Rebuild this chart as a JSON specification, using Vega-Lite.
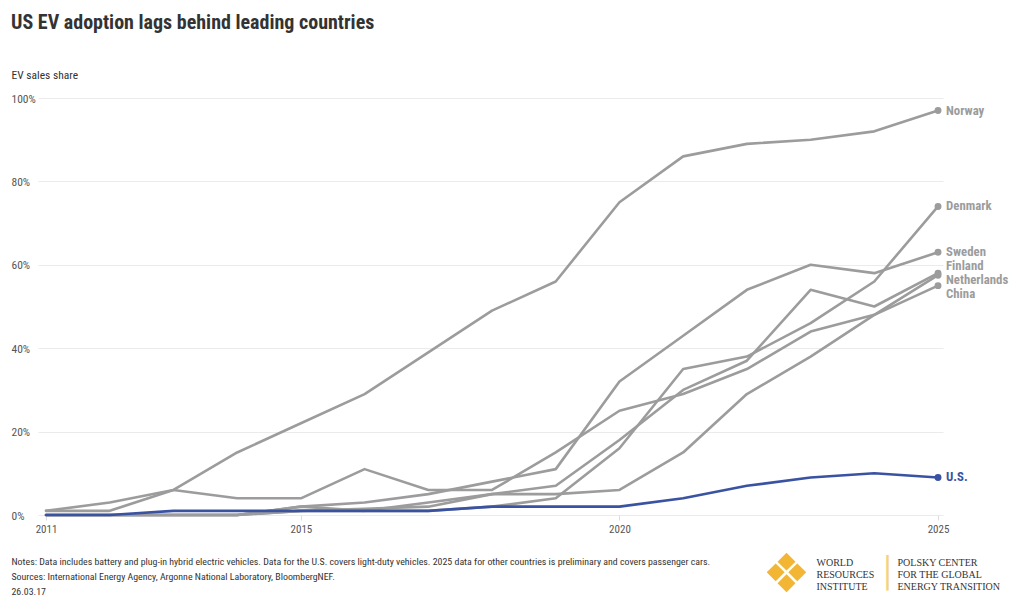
{
  "$schema": "https://vega.github.io/schema/vega-lite/v6.json",
  "width": 905,
  "height": 417,
  "autosize": {"type": "none"},
  "padding": {"left": 38, "top": 98, "right": 77, "bottom": 92},
  "background": "white",
  "config": {
    "font": "Roboto Condensed, Roboto, sans-serif",
    "view": {"stroke": null},
    "axis": {
      "labelFont": "Roboto Condensed, Roboto, sans-serif",
      "titleFont": "Roboto Condensed, Roboto, sans-serif",
      "labelColor": "#555555",
      "titleColor": "#333333",
      "labelFontSize": 11.5,
      "titleFontWeight": "normal"
    }
  },
  "title": {
    "text": "US EV adoption lags behind leading countries",
    "anchor": "start",
    "offset": 36,
    "fontSize": 20,
    "fontWeight": "bold",
    "color": "#333333",
    "font": "Roboto Condensed, Roboto, sans-serif"
  },
  "data": {
    "values": [
      {"country": "Norway", "year": 2011, "share": 1},
      {"country": "Norway", "year": 2012, "share": 3},
      {"country": "Norway", "year": 2013, "share": 6},
      {"country": "Norway", "year": 2014, "share": 15},
      {"country": "Norway", "year": 2015, "share": 22},
      {"country": "Norway", "year": 2016, "share": 29},
      {"country": "Norway", "year": 2017, "share": 39},
      {"country": "Norway", "year": 2018, "share": 49},
      {"country": "Norway", "year": 2019, "share": 56},
      {"country": "Norway", "year": 2020, "share": 75},
      {"country": "Norway", "year": 2021, "share": 86},
      {"country": "Norway", "year": 2022, "share": 89},
      {"country": "Norway", "year": 2023, "share": 90},
      {"country": "Norway", "year": 2024, "share": 92},
      {"country": "Norway", "year": 2025, "share": 97},
      {"country": "Denmark", "year": 2011, "share": 0},
      {"country": "Denmark", "year": 2012, "share": 0},
      {"country": "Denmark", "year": 2013, "share": 0},
      {"country": "Denmark", "year": 2014, "share": 0},
      {"country": "Denmark", "year": 2015, "share": 2},
      {"country": "Denmark", "year": 2016, "share": 1},
      {"country": "Denmark", "year": 2017, "share": 1},
      {"country": "Denmark", "year": 2018, "share": 2},
      {"country": "Denmark", "year": 2019, "share": 4},
      {"country": "Denmark", "year": 2020, "share": 16},
      {"country": "Denmark", "year": 2021, "share": 35},
      {"country": "Denmark", "year": 2022, "share": 38},
      {"country": "Denmark", "year": 2023, "share": 46},
      {"country": "Denmark", "year": 2024, "share": 56},
      {"country": "Denmark", "year": 2025, "share": 74},
      {"country": "Sweden", "year": 2011, "share": 0},
      {"country": "Sweden", "year": 2012, "share": 0},
      {"country": "Sweden", "year": 2013, "share": 0},
      {"country": "Sweden", "year": 2014, "share": 0},
      {"country": "Sweden", "year": 2015, "share": 2},
      {"country": "Sweden", "year": 2016, "share": 3},
      {"country": "Sweden", "year": 2017, "share": 5},
      {"country": "Sweden", "year": 2018, "share": 8},
      {"country": "Sweden", "year": 2019, "share": 11},
      {"country": "Sweden", "year": 2020, "share": 32},
      {"country": "Sweden", "year": 2021, "share": 43},
      {"country": "Sweden", "year": 2022, "share": 54},
      {"country": "Sweden", "year": 2023, "share": 60},
      {"country": "Sweden", "year": 2024, "share": 58},
      {"country": "Sweden", "year": 2025, "share": 63},
      {"country": "Finland", "year": 2011, "share": 0},
      {"country": "Finland", "year": 2012, "share": 0},
      {"country": "Finland", "year": 2013, "share": 0},
      {"country": "Finland", "year": 2014, "share": 0},
      {"country": "Finland", "year": 2015, "share": 1},
      {"country": "Finland", "year": 2016, "share": 1},
      {"country": "Finland", "year": 2017, "share": 3},
      {"country": "Finland", "year": 2018, "share": 5},
      {"country": "Finland", "year": 2019, "share": 7},
      {"country": "Finland", "year": 2020, "share": 18},
      {"country": "Finland", "year": 2021, "share": 30},
      {"country": "Finland", "year": 2022, "share": 37},
      {"country": "Finland", "year": 2023, "share": 54},
      {"country": "Finland", "year": 2024, "share": 50},
      {"country": "Finland", "year": 2025, "share": 58},
      {"country": "Netherlands", "year": 2011, "share": 1},
      {"country": "Netherlands", "year": 2012, "share": 1},
      {"country": "Netherlands", "year": 2013, "share": 6},
      {"country": "Netherlands", "year": 2014, "share": 4},
      {"country": "Netherlands", "year": 2015, "share": 4},
      {"country": "Netherlands", "year": 2016, "share": 11},
      {"country": "Netherlands", "year": 2017, "share": 6},
      {"country": "Netherlands", "year": 2018, "share": 6},
      {"country": "Netherlands", "year": 2019, "share": 15},
      {"country": "Netherlands", "year": 2020, "share": 25},
      {"country": "Netherlands", "year": 2021, "share": 29},
      {"country": "Netherlands", "year": 2022, "share": 35},
      {"country": "Netherlands", "year": 2023, "share": 44},
      {"country": "Netherlands", "year": 2024, "share": 48},
      {"country": "Netherlands", "year": 2025, "share": 57.5},
      {"country": "China", "year": 2011, "share": 0},
      {"country": "China", "year": 2012, "share": 0},
      {"country": "China", "year": 2013, "share": 0},
      {"country": "China", "year": 2014, "share": 0},
      {"country": "China", "year": 2015, "share": 1},
      {"country": "China", "year": 2016, "share": 1.5},
      {"country": "China", "year": 2017, "share": 2},
      {"country": "China", "year": 2018, "share": 5},
      {"country": "China", "year": 2019, "share": 5},
      {"country": "China", "year": 2020, "share": 6},
      {"country": "China", "year": 2021, "share": 15},
      {"country": "China", "year": 2022, "share": 29},
      {"country": "China", "year": 2023, "share": 38},
      {"country": "China", "year": 2024, "share": 48},
      {"country": "China", "year": 2025, "share": 55},
      {"country": "U.S.", "year": 2011, "share": 0},
      {"country": "U.S.", "year": 2012, "share": 0},
      {"country": "U.S.", "year": 2013, "share": 1},
      {"country": "U.S.", "year": 2014, "share": 1},
      {"country": "U.S.", "year": 2015, "share": 1},
      {"country": "U.S.", "year": 2016, "share": 1},
      {"country": "U.S.", "year": 2017, "share": 1},
      {"country": "U.S.", "year": 2018, "share": 2},
      {"country": "U.S.", "year": 2019, "share": 2},
      {"country": "U.S.", "year": 2020, "share": 2},
      {"country": "U.S.", "year": 2021, "share": 4},
      {"country": "U.S.", "year": 2022, "share": 7},
      {"country": "U.S.", "year": 2023, "share": 9},
      {"country": "U.S.", "year": 2024, "share": 10},
      {"country": "U.S.", "year": 2025, "share": 9}
    ]
  },
  "resolve": {"scale": {"x": "independent", "y": "independent"}},
  "layer": [
    {
      "mark": {"type": "line", "strokeWidth": 2.6, "strokeJoin": "round", "strokeCap": "round"},
      "encoding": {
        "x": {
          "field": "year",
          "type": "quantitative",
          "scale": {"domain": [2010.874, 2025.078], "nice": false, "zero": false},
          "axis": {
            "values": [2011, 2015, 2020, 2025],
            "format": "d",
            "grid": false,
            "domain": false,
            "tickSize": 5,
            "tickColor": "#dddddd",
            "labelPadding": 3,
            "labelFontSize": 11,
            "title": [
              "Notes: Data includes battery and plug-in hybrid electric vehicles. Data for the U.S. covers light-duty vehicles. 2025 data for other countries is preliminary and covers passenger cars.",
              "Sources: International Energy Agency, Argonne National Laboratory, BloombergNEF.",
              "26.03.17"
            ],
            "titleFontSize": 9.9,
            "titleColor": "#333333",
            "titleAlign": "left",
            "titleBaseline": "top",
            "titleLineHeight": 15,
            "titleX": -27,
            "titleY": 41
          }
        },
        "y": {
          "field": "share",
          "type": "quantitative",
          "scale": {"domain": [0, 100], "nice": false},
          "axis": {
            "values": [0, 20, 40, 60, 80, 100],
            "labelExpr": "datum.value + '%'",
            "grid": true,
            "gridColor": "#ebebeb",
            "domain": false,
            "ticks": false,
            "labelAlign": "left",
            "labelPadding": 27,
            "labelBaseline": "middle",
            "labelOffset": 1,
            "title": "EV sales share",
            "titleFontSize": 11.5,
            "titleAngle": 0,
            "titleAlign": "left",
            "titleBaseline": "middle",
            "titleX": -27,
            "titleY": -23
          }
        },
        "color": {
          "field": "country",
          "type": "nominal",
          "scale": {
            "domain": ["Norway", "Denmark", "Sweden", "Finland", "Netherlands", "China", "U.S."],
            "range": ["#9c9c9c", "#9c9c9c", "#9c9c9c", "#9c9c9c", "#9c9c9c", "#9c9c9c", "#3a52a2"]
          },
          "legend": null
        }
      }
    },
    {
      "transform": [{"filter": "datum.year == 2025"}],
      "mark": {"type": "point", "filled": true, "size": 48, "opacity": 1},
      "encoding": {
        "x": {
          "field": "year",
          "type": "quantitative",
          "scale": {"domain": [2010.874, 2025.078], "nice": false, "zero": false},
          "axis": {
            "orient": "bottom",
            "labels": false,
            "ticks": false,
            "domain": false,
            "grid": false,
            "title": "❖",
            "titleFont": "DejaVu Sans",
            "titleFontSize": 54,
            "titleColor": "#f3b534",
            "titleAlign": "center",
            "titleBaseline": "middle",
            "titleX": 748,
            "titleY": 60
          }
        },
        "y": {
          "field": "share",
          "type": "quantitative",
          "scale": {"domain": [0, 100], "nice": false},
          "axis": {
            "orient": "right",
            "labels": false,
            "ticks": false,
            "domain": false,
            "grid": false,
            "title": "│",
            "titleFont": "DejaVu Sans",
            "titleFontSize": 30,
            "titleColor": "#f3d27e",
            "titleAngle": 0,
            "titleAlign": "center",
            "titleBaseline": "middle",
            "titleX": -56,
            "titleY": 475
          }
        },
        "color": {"field": "country", "type": "nominal", "legend": null}
      }
    },
    {
      "transform": [{"filter": "datum.year == 2025"}],
      "encoding": {
        "x": {
          "field": "year",
          "type": "quantitative",
          "scale": {"domain": [2010.874, 2025.078], "nice": false, "zero": false},
          "axis": {
            "orient": "bottom",
            "labels": false,
            "ticks": false,
            "domain": false,
            "grid": false,
            "title": ["WORLD", "RESOURCES", "INSTITUTE"],
            "titleFont": "Liberation Serif",
            "titleFontSize": 10,
            "titleColor": "#333333",
            "titleAlign": "left",
            "titleBaseline": "middle",
            "titleLineHeight": 12,
            "titleX": 778,
            "titleY": 47
          }
        },
        "y": {
          "field": "share",
          "type": "quantitative",
          "scale": {"domain": [0, 100], "nice": false},
          "axis": {
            "orient": "right",
            "labels": false,
            "ticks": false,
            "domain": false,
            "grid": false,
            "title": ["POLSKY CENTER", "FOR THE GLOBAL", "ENERGY TRANSITION"],
            "titleFont": "Liberation Serif",
            "titleFontSize": 10,
            "titleColor": "#333333",
            "titleAngle": 0,
            "titleAlign": "left",
            "titleBaseline": "middle",
            "titleLineHeight": 12,
            "titleX": -46,
            "titleY": 464
          }
        },
        "text": {"field": "country", "type": "nominal"},
        "color": {"field": "country", "type": "nominal", "legend": null}
      },
      "layer": [
        {
          "transform": [{"filter": "indexof(['Norway', 'Denmark', 'Sweden', 'U.S.'], datum.country) >= 0"}],
          "mark": {"type": "text", "align": "left", "baseline": "middle", "dx": 8, "fontSize": 12.8, "fontWeight": "bold"}
        },
        {
          "transform": [{"filter": "datum.country == 'Finland'"}],
          "mark": {"type": "text", "align": "left", "baseline": "middle", "dx": 8, "dy": -7, "fontSize": 12.8, "fontWeight": "bold"}
        },
        {
          "transform": [{"filter": "datum.country == 'Netherlands'"}],
          "mark": {"type": "text", "align": "left", "baseline": "middle", "dx": 8, "dy": 5, "fontSize": 12.8, "fontWeight": "bold"}
        },
        {
          "transform": [{"filter": "datum.country == 'China'"}],
          "mark": {"type": "text", "align": "left", "baseline": "middle", "dx": 8, "dy": 8, "fontSize": 12.8, "fontWeight": "bold"}
        }
      ]
    }
  ]
}
